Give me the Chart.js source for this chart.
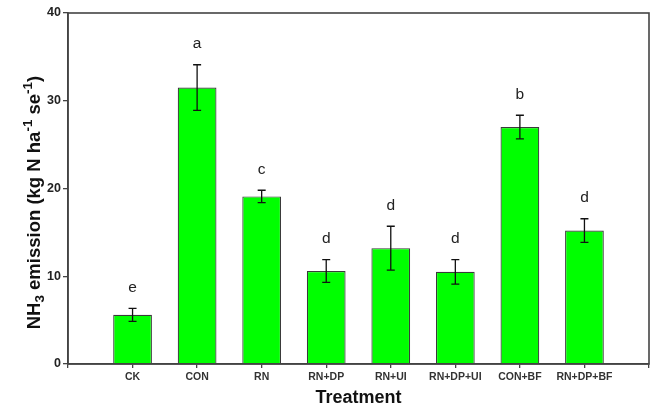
<!DOCTYPE html>
<html>
<head>
<meta charset="utf-8">
<script src="https://cdn.jsdelivr.net/npm/chart.js@4"></script>
<style>
html,body{margin:0;padding:0;background:#fff;}
#wrap{width:652px;height:406px;}
</style>
</head>
<body>
<div id="wrap"><canvas id="c" width="652" height="406"></canvas></div>
<script>
const categories = ['CK','CON','RN','RN+DP','RN+UI','RN+DP+UI','CON+BF','RN+DP+BF'];
const means = [5.6, 31.5, 19.1, 10.6, 13.2, 10.5, 27.0, 15.2];
const errors = [0.75, 2.6, 0.7, 1.3, 2.5, 1.4, 1.35, 1.35];
const letters = ['e','a','c','d','d','d','b','d'];
const yTicks = [0, 10, 20, 30, 40];

const FONT = '"Liberation Sans", Arial, sans-serif';

const extras = {
  id: 'extras',
  afterDatasetsDraw(chart) {
    const ctx = chart.ctx, xs = chart.scales.x, ys = chart.scales.y;
    ctx.save();
    ctx.strokeStyle = '#111';
    ctx.lineWidth = 1.3;
    means.forEach((m, i) => {
      const px = xs.getPixelForValue(i + 1);
      const top = ys.getPixelForValue(m + errors[i]);
      const bot = ys.getPixelForValue(m - errors[i]);
      ctx.beginPath();
      ctx.moveTo(px, top); ctx.lineTo(px, bot);
      ctx.moveTo(px - 4, top); ctx.lineTo(px + 4, top);
      ctx.moveTo(px - 4, bot); ctx.lineTo(px + 4, bot);
      ctx.stroke();
      ctx.fillStyle = '#222';
      ctx.font = '15.5px ' + FONT;
      ctx.textAlign = 'center';
      ctx.textBaseline = 'middle';
      ctx.fillText(letters[i], px, top - 21);
    });
    const a = chart.chartArea;
    ctx.strokeStyle = '#444';
    ctx.lineWidth = 1.6;
    ctx.strokeRect(a.left, a.top, a.right - a.left, a.bottom - a.top);
    // rotated y-axis title with subscript / superscripts
    ctx.translate(40, (a.top + a.bottom) / 2 + 14);
    ctx.rotate(-Math.PI / 2);
    ctx.fillStyle = '#111';
    ctx.textBaseline = 'alphabetic';
    ctx.textAlign = 'left';
    const parts = [
      ['NH', 0, 18.5], ['3', 4, 13.5], [' emission (kg N ha', 0, 18.5], ['-1', -8, 13.5], [' se', 0, 18.5], ['-1', -8, 13.5], [')', 0, 18.5]
    ];
    let total = 0;
    parts.forEach(p => { ctx.font = 'bold ' + p[2] + 'px ' + FONT; total += ctx.measureText(p[0]).width; });
    let x = -total / 2;
    parts.forEach(p => {
      ctx.font = 'bold ' + p[2] + 'px ' + FONT;
      ctx.fillText(p[0], x, p[1]);
      x += ctx.measureText(p[0]).width;
    });
    ctx.restore();
  }
};

new Chart(document.getElementById('c'), {
  type: 'bar',
  data: {
    datasets: [{
      data: means.map((v, i) => ({ x: i + 1, y: v })),
      backgroundColor: '#00ff00',
      borderColor: '#3a3a3a',
      borderWidth: 1.2,
      barPercentage: 0.6,
      categoryPercentage: 1.0
    }]
  },
  options: {
    responsive: false,
    animation: false,
    devicePixelRatio: 1,
    layout: { padding: { top: 13, right: 3, left: 0, bottom: 0 } },
    plugins: { legend: { display: false }, tooltip: { enabled: false } },
    scales: {
      x: {
        type: 'linear',
        offset: false,
        min: 0, max: 9,
        afterBuildTicks: s => { s.ticks = [0,1,2,3,4,5,6,7,8,9].map(v => ({ value: v })); },
        afterFit: s => { s.height = 42; },
        grid: { offset: false, drawOnChartArea: false, drawTicks: true, tickLength: 4, color: '#444', lineWidth: 1.3 },
        border: { display: true, color: '#444', width: 1.6 },
        ticks: {
          autoSkip: false, maxRotation: 0, padding: 3,
          color: '#333',
          font: { family: FONT, size: 10.5, weight: 'bold' },
          callback: v => (v >= 1 && v <= 8) ? categories[v - 1] : ''
        },
        title: {
          display: true, text: 'Treatment', color: '#111',
          font: { family: FONT, size: 18, weight: 'bold' }, padding: { top: 0, bottom: -3 }
        }
      },
      y: {
        min: 0, max: 40,
        afterBuildTicks: s => { s.ticks = yTicks.map(v => ({ value: v })); },
        afterFit: s => { s.width = 68; },
        grid: { drawOnChartArea: false, drawTicks: true, tickLength: 5, color: '#444', lineWidth: 1.3 },
        border: { display: true, color: '#444', width: 1.6 },
        ticks: {
          padding: 2, color: '#222',
          font: { family: FONT, size: 12.5, weight: 'bold' }
        }
      }
    }
  },
  plugins: [extras]
});
</script>
</body>
</html>
